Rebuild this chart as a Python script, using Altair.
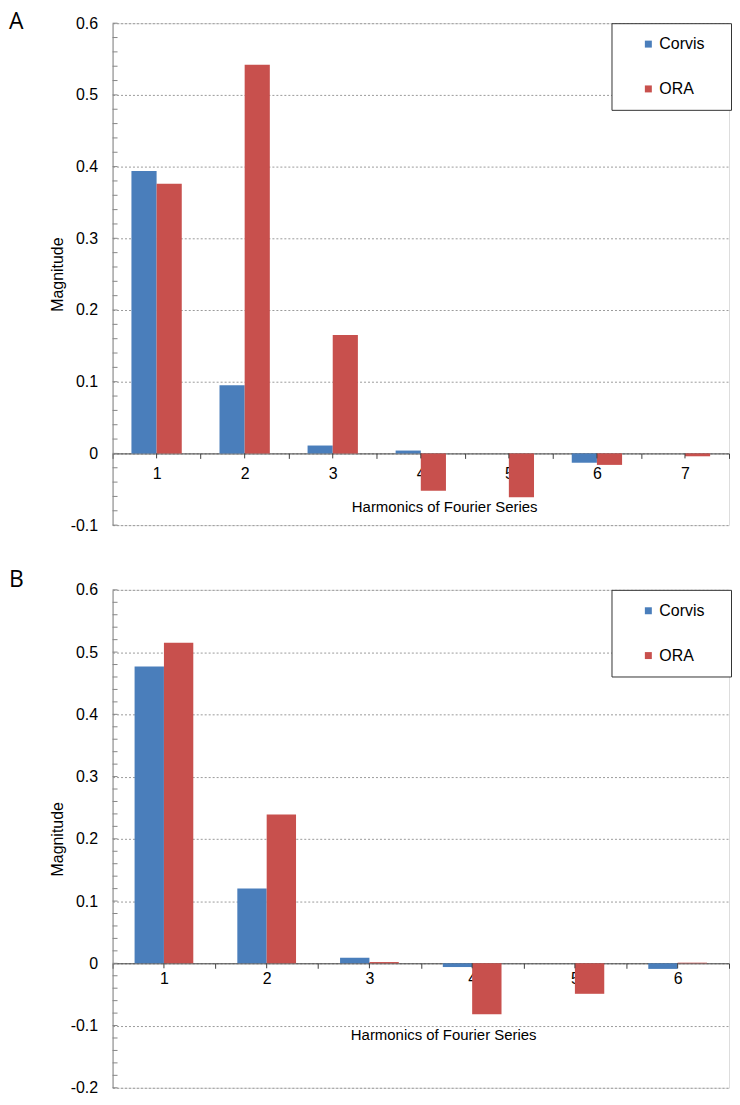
import altair as alt
import pandas as pd

# ---------------- data ----------------
series_names = ["Corvis", "ORA"]
series_colors = ["#4A7EBB", "#C8504D"]

harmonics_a = [1, 2, 3, 4, 5, 6, 7]
corvis_a = [0.394, 0.095, 0.011, 0.004, 0.0, -0.013, 0.0]
ora_a = [0.376, 0.542, 0.165, -0.052, -0.061, -0.016, -0.004]
yticks_a = [-0.1, 0, 0.1, 0.2, 0.3, 0.4, 0.5, 0.6]

harmonics_b = [1, 2, 3, 4, 5, 6]
corvis_b = [0.477, 0.120, 0.009, -0.006, 0.0, -0.009]
ora_b = [0.515, 0.239, 0.002, -0.082, -0.049, 0.001]
yticks_b = [-0.2, -0.1, 0, 0.1, 0.2, 0.3, 0.4, 0.5, 0.6]

FONT = "Liberation Sans"
W = 619


def make_df(harm, corvis, ora):
    rows = []
    for h, c, o in zip(harm, corvis, ora):
        rows.append({"harmonic": h, "series": "Corvis", "value": c})
        rows.append({"harmonic": h, "series": "ORA", "value": o})
    return pd.DataFrame(rows)


def panel(label, harm, corvis, ora, yticks, H, label_pad, title_y, title_x, label_y):
    ymin, ymax = yticks[0], yticks[-1]
    px_per_unit = H / (ymax - ymin)
    zero_from_bottom = (0 - ymin) * px_per_unit
    df = make_df(harm, corvis, ora)

    xscale = alt.Scale(paddingInner=0, paddingOuter=0)
    yscale = alt.Scale(domain=[ymin, ymax], nice=False, zero=False)

    bars = alt.Chart(df).mark_bar().encode(
        x=alt.X(
            "harmonic:O",
            scale=xscale,
            axis=alt.Axis(
                title="Harmonics of Fourier Series",
                labelAngle=0,
                tickBand="extent",
                offset=-zero_from_bottom,
                domainColor="#404040",
                tickColor="#404040",
                tickSize=5,
                labelPadding=label_pad,
                labelFont=FONT,
                labelFontSize=16,
                labelColor="black",
                titleFont=FONT,
                titleFontSize=15,
                titleFontWeight="normal",
                titleColor="black",
                titleX=title_x,
                titleY=title_y,
                titleBaseline="middle",
                titleAlign="center",
            ),
        ),
        xOffset=alt.XOffset(
            "series:N",
            sort=series_names,
            scale=alt.Scale(paddingInner=0, paddingOuter=0.75),
        ),
        y=alt.Y(
            "value:Q",
            stack=None,
            scale=yscale,
            axis=alt.Axis(
                values=yticks,
                format=".1~f",
                labelExpr="replace(datum.label, '\u2212', '-')",
                grid=True,
                gridDash=[2, 2],
                gridColor="#9a9a9a",
                ticks=False,
                domainColor="#868686",
                labelPadding=15,
                labelFont=FONT,
                labelFontSize=16,
                labelColor="black",
                title="Magnitude",
                titleFont=FONT,
                titleFontSize=16,
                titleFontWeight="normal",
                titleColor="black",
                titleX=-55,
                titleY=H / 2,
                titleBaseline="middle",
            ),
        ),
        y2=alt.datum(0),
        color=alt.Color(
            "series:N",
            title=None,
            scale=alt.Scale(domain=series_names, range=series_colors),
            legend=alt.Legend(
                orient="none",
                legendX=501,
                legendY=0,
                strokeColor="#333333",
                fillColor="white",
                padding=13,
                symbolType="square",
                symbolSize=49,
                symbolStrokeWidth=0,
                symbolOffset=16,
                labelOffset=3,
                rowPadding=29,
                labelFont=FONT,
                labelFontSize=16,
                labelColor="black",
                labelExpr="datum.label + '\u00a0\u00a0\u00a0\u200b'",
            ),
        ),
    )

    minor = alt.Chart(
        alt.sequence(start=ymin, stop=ymax + 0.001, step=0.02, as_="t")
    ).mark_rule(color="#868686").encode(
        y=alt.Y("t:Q", scale=yscale),
        x=alt.value(0),
        x2=alt.value(5),
    )

    tick_len = 5 / px_per_unit
    center_ticks = alt.Chart(df).transform_filter(
        alt.datum.series == "Corvis"
    ).mark_rule(color="#404040").encode(
        x=alt.X("harmonic:O", scale=xscale),
        y=alt.datum(0),
        y2=alt.datum(-tick_len),
    )

    panel_label = alt.Chart(alt.Data(values=[{"t": label}])).mark_text(
        font="Open Sans", fontSize=23, align="left", baseline="top",
        color="black",
    ).encode(text="t:N", x=alt.value(-104), y=alt.value(label_y))

    return alt.layer(minor, bars, center_ticks, panel_label).properties(
        width=W, height=H
    )


chart_a = panel("A", harmonics_a, corvis_a, ora_a, yticks_a, 504, 7, 53, 333, -12)
chart_b = panel("B", harmonics_b, corvis_b, ora_b, yticks_b, 500, 2, 72, 332, -21)

chart = alt.vconcat(chart_a, chart_b, spacing=34).resolve_scale(
    x="independent", y="independent", xOffset="independent", color="independent"
).resolve_legend(color="independent").properties(
    padding={"left": 0, "top": 0, "right": 0, "bottom": 0}
).configure_view(stroke="#868686", strokeWidth=1).configure(background="white")

chart.save("out.html", embed_options={"renderer": "svg", "actions": False})
